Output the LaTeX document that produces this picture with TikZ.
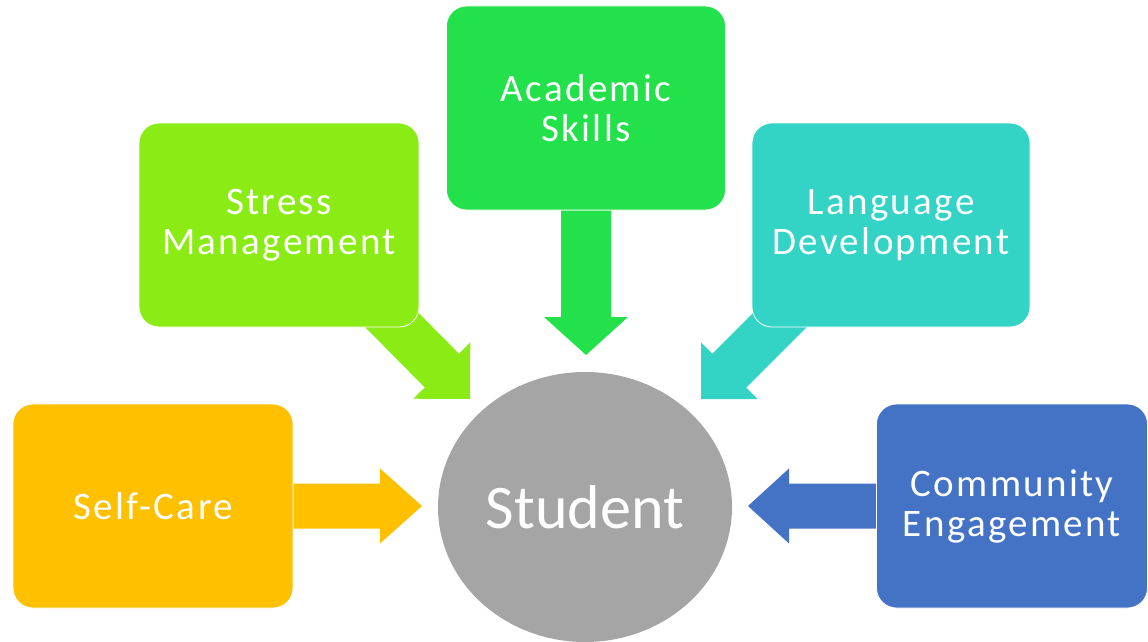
\documentclass[tikz,border=0pt]{standalone}
\usepackage{fontspec}
\setmainfont{Carlito}
\newfontfamily\boxfont[LetterSpace=6]{Carlito}
\usetikzlibrary{calc,shapes.geometric}
\definecolor{cSC}{HTML}{FFC000}
\definecolor{cSM}{HTML}{8AEC14}
\definecolor{cAS}{HTML}{22E14A}
\definecolor{cLD}{HTML}{33D3C6}
\definecolor{cCE}{HTML}{4472C4}
\definecolor{cST}{HTML}{A5A5A5}
\pgfdeclarelayer{bg}
\pgfsetlayers{bg,main}
% #1 start, #2 tip, #3 half shaft, #4 half head, #5 head length, #6 colour
\newcommand\blockarrow[6]{%
  \path ($(#2)!#5!(#1)$) coordinate (ab);
  \fill[#6] ($(#1)!#3!90:(#2)$) -- ($(ab)!#3!-90:(#1)$) -- ($(ab)!#4!-90:(#1)$)
    -- (#2) -- ($(ab)!#4!90:(#1)$) -- ($(ab)!#3!90:(#1)$) -- ($(#1)!#3!-90:(#2)$) -- cycle;}
\tikzset{
  topic/.style={rectangle, rounded corners=20pt, draw=white, line width=0.8pt,
    minimum width=280pt, minimum height=204pt, inner sep=0pt, align=center,
    text=white, font=\boxfont\fontsize{39}{40}\selectfont},
  hub/.style={ellipse, fill=cST, minimum width=294pt, minimum height=270pt,
    inner sep=0pt, text=white, font=\fontsize{62}{70}\selectfont}
}
\begin{document}
\begin{tikzpicture}[x=1pt,y=-1pt]
\useasboundingbox (0,0) rectangle (1148,642);
\clip (0,0) rectangle (1148,642);

\node[topic, fill=cSC] (sc) at (153,506) {Self-Care};
\node[topic, fill=cSM] (sm) at (279,225) {Stress\\Management};
\node[topic, fill=cAS, minimum width=279pt] (as) at (586,108) {Academic\\Skills};
\node[topic, fill=cLD, minimum width=278pt] (ld) at (891,225) {Language\\Development};
\node[topic, fill=cCE, minimum width=271pt] (ce) at (1012,506) {Community\\Engagement};
\node[hub] (st) at (585,507) {Student};

\coordinate (scT) at (422,506);
\coordinate (ceT) at (748,506);
\coordinate (asT) at (586,355);
\coordinate (smS) at ($(sm.south east)+(-49,-29)$);
\coordinate (smT) at (470,399);
\coordinate (ldS) at ($(ld.south west)+(49,-28)$);
\coordinate (ldT) at (701,399);

\begin{pgfonlayer}{bg}
\blockarrow{sc.east}{scT}{22.5pt}{37.5pt}{42pt}{cSC}
\blockarrow{ce.west}{ceT}{22.5pt}{37.5pt}{41pt}{cCE}
\blockarrow{as.south}{asT}{25pt}{42pt}{38pt}{cAS}
\blockarrow{smS}{smT}{24pt}{40pt}{40pt}{cSM}
\blockarrow{ldS}{ldT}{24pt}{40pt}{40pt}{cLD}
\end{pgfonlayer}
\end{tikzpicture}
\end{document}
